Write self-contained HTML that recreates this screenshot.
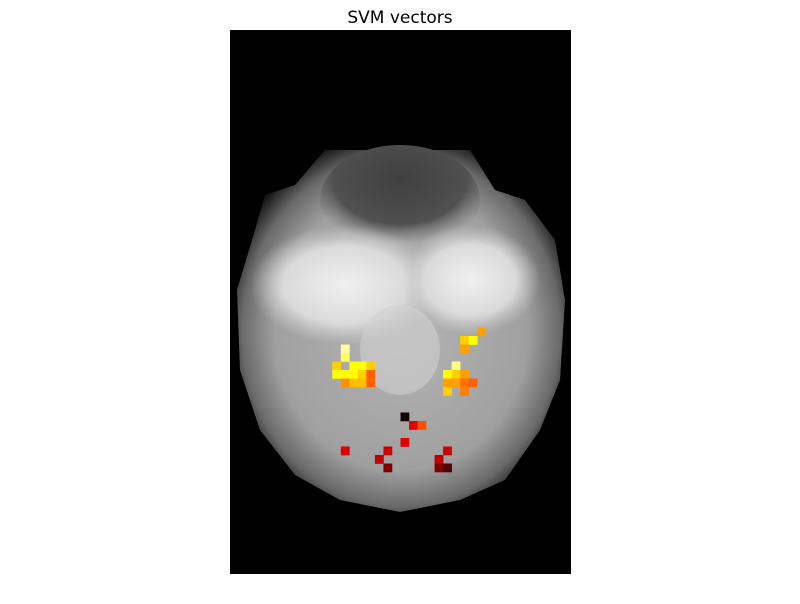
<!DOCTYPE html>
<html><head><meta charset="utf-8"><style>
body{margin:0;background:#fff;width:800px;height:600px;overflow:hidden;font-family:"DejaVu Sans",sans-serif}
</style></head><body>
<svg width="800" height="600">
<defs>
<radialGradient id="bg" cx="0.5" cy="0.5" r="0.55">
<stop offset="0" stop-color="#b4b4b4"/><stop offset="0.7" stop-color="#a0a0a0"/><stop offset="0.88" stop-color="#6a6a6a"/><stop offset="1" stop-color="#181818"/>
</radialGradient>
<radialGradient id="wh" cx="0.5" cy="0.5" r="0.5">
<stop offset="0" stop-color="#f0f0f0"/><stop offset="0.65" stop-color="#dadada"/><stop offset="1" stop-color="#c8c8c8" stop-opacity="0"/>
</radialGradient>
<radialGradient id="dk" cx="0.5" cy="0.3" r="0.6">
<stop offset="0" stop-color="#404040"/><stop offset="0.7" stop-color="#505050"/><stop offset="1" stop-color="#707070" stop-opacity="0"/>
</radialGradient>
</defs>
<text x="400" y="23" text-anchor="middle" font-size="17">SVM vectors</text>
<rect x="230" y="30" width="341" height="544" fill="#000"/>
<g>
<path d="M325,150 L470,150 L495,190 L525,200 L555,240 L565,300 L560,380 L540,430 L505,480 L460,500 L400,512 L340,500 L295,475 L260,430 L240,370 L237,290 L255,230 L265,195 L295,185 Z" fill="url(#bg)"/>
<ellipse cx="400" cy="200" rx="80" ry="55" fill="url(#dk)"/>
<ellipse cx="345" cy="285" rx="95" ry="60" fill="url(#wh)"/>
<ellipse cx="470" cy="280" rx="70" ry="55" fill="url(#wh)"/>
<ellipse cx="400" cy="350" rx="40" ry="45" fill="#d0d0d0" opacity="0.6"/>
</g>
<g id="cells"></g>
</svg>
<script>
const cols=[13,12,13,14,15,16,12,13,14,15,16,13,14,15,16,29,27,28,27,26,25,26,27,25,26,27,28,25,27,20,21,22,20,13,18,25,17,24,18,24,25];
const rows=[37,39,38,39,39,39,40,40,40,40,40,41,41,41,41,35,36,36,37,39,40,40,40,41,41,41,41,42,42,45,46,46,48,49,49,49,50,50,51,51,51];
const colors=["#ffffa0","#ffd000","#ffff60","#ffff00","#ffff00","#ffd000","#ffff00","#ffff00","#ffff00","#ffd000","#ff6000","#ff9000","#ffc000","#ffc000","#ff6000","#ffa000","#ffd000","#ffff00","#ffa000","#ffff80","#ffff00","#ffd000","#ffa000","#ffa000","#ffa000","#ff7000","#ff6000","#ffd000","#ff8000","#100000","#e00000","#ff5000","#e00000","#e00000","#d00000","#d00000","#c00000","#c00000","#800000","#800000","#500000"];
const g=document.getElementById('cells');
const x0=230,y0=30,cw=341/40,ch=544/64;
for(let i=0;i<cols.length;i++){
 const r=document.createElementNS('http://www.w3.org/2000/svg','rect');
 r.setAttribute('x',x0+cols[i]*cw);r.setAttribute('y',y0+rows[i]*ch);
 r.setAttribute('width',cw+0.3);r.setAttribute('height',ch+0.3);r.setAttribute('fill',colors[i]);
 
 
 g.appendChild(r);
}
</script>
</body></html>
